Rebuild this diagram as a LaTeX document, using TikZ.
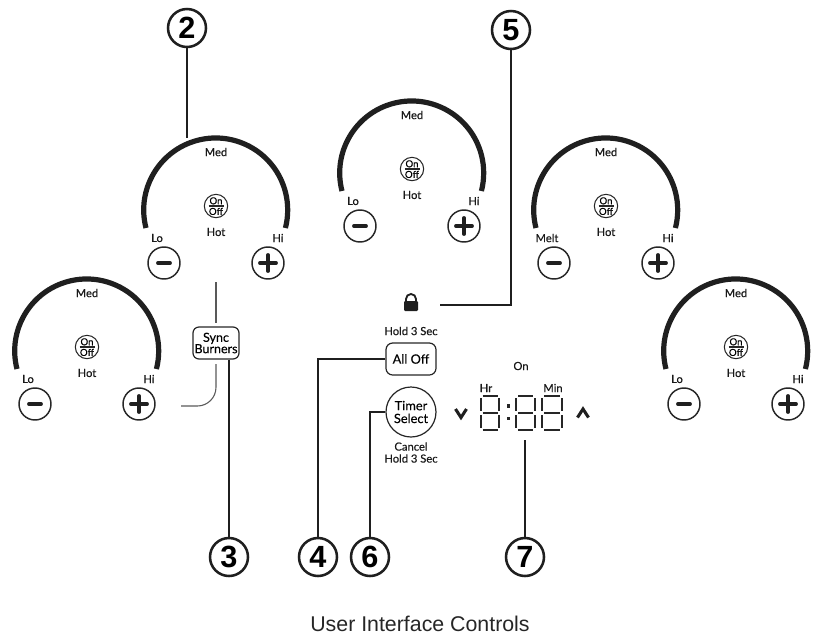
\documentclass[tikz,border=0pt]{standalone}
\usepackage{fontspec}
\setmainfont{Lato}[FakeBold=0.3]
\newfontfamily\capfont{Liberation Sans}
\tikzset{
  x=0.75pt,y=-0.75pt,
  lab/.style={inner sep=0pt,font=\fontsize{8.4pt}{9pt}\selectfont,text=black!90},
  dial/.style={line width=3.9pt,draw=black!88,line cap=butt},
  roundbtn/.style={circle,draw=black!85,line width=1.1pt,minimum size=24pt,inner sep=0pt},
  onoff/.style={circle,draw=black!85,line width=0.8pt,minimum size=17.5pt,inner sep=0pt},
  callout/.style={circle,draw=black!88,line width=1.9pt,minimum size=28.5pt,inner sep=0pt,fill=white,font=\capfont\bfseries\fontsize{23pt}{23pt}\selectfont},
  lead/.style={line width=1.7pt,draw=black!88},
  thin lead/.style={line width=0.8pt,draw=black!65},
  softkey/.style={draw=black!85,line width=0.9pt,rounded corners=4.5pt,inner sep=0pt,align=center},
  seg/.style={line width=1.5pt,draw=black!85},
}
\newcommand{\burner}[4]{% name, cx, cy, low label
  \begin{scope}[shift={(#2,#3)}]
    \draw[dial] (-70,22) arc[start angle=165.5,end angle=374.5,radius=72];
    \coordinate (#1top) at (0,-68);
    \node[lab] (#1med) at (0,-54) {Med};
    \node[onoff] (#1sw) at (0,0) {};
    \node[inner sep=0pt,font=\fontsize{7.2pt}{7.2pt}\selectfont] (#1on) at (0,-5.2) {On};
    \node[inner sep=0pt,font=\fontsize{7.2pt}{7.2pt}\selectfont] (#1off) at (0,5.4) {Off};
    \draw[line width=0.8pt,black!85] (-7.5,0) -- (7.5,0);
    \node[lab] (#1hot) at (0,26) {Hot};
    \node[lab] (#1lo) at (-59,32) {#4};
    \node[lab] (#1hi) at (62,32) {Hi};
    \node[roundbtn] (#1minus) at (-52,57) {};
    \node[roundbtn] (#1plus) at (52,57) {};
    \draw[line width=2.9pt,black!88,line cap=round] (#1minus.center)++(-6,0) -- ++(12,0);
    \draw[line width=2.9pt,black!88,line cap=round] (#1plus.center)++(-8,0) -- ++(16,0);
    \draw[line width=2.9pt,black!88,line cap=round] (#1plus.center)++(0,-8) -- ++(0,16);
  \end{scope}
}
\newcommand{\digit}[2]{% left x of digit, width
  \begin{scope}[shift={(#1,395.5)}]
    \draw[seg] (2.5,0.8) -- (#2-2.5,0.8);
    \draw[seg] (0.8,2.5) -- (0.8,15.5);
    \draw[seg] (#2-0.8,2.5) -- (#2-0.8,15.5);
    \draw[seg] (2.5,17.5) -- (#2-2.5,17.5);
    \draw[seg] (0.8,19.5) -- (0.8,32.5);
    \draw[seg] (#2-0.8,19.5) -- (#2-0.8,32.5);
    \draw[seg] (2.5,34.2) -- (#2-2.5,34.2);
  \end{scope}
}
\begin{document}
\begin{tikzpicture}
\useasboundingbox (0,0) rectangle (815,637);
\burner{b1}{216}{206}{Lo}
\burner{b2}{412}{169}{Lo}
\burner{b3}{606}{206}{Melt}
\burner{b4}{87}{347}{Lo}
\burner{b5}{736}{347}{Lo}
% Sync
\node[softkey,minimum width=34.5pt,minimum height=24pt,font=\fontsize{9.4pt}{9pt}\selectfont] (sync) at (216,343) {Sync\\[-0.5pt]Burners};
\coordinate (syncup) at (216,282);
\coordinate (syncupend) at (216,323);
\coordinate (syncdn) at (216,364);
\coordinate (syncend) at (181,406);
\draw[thin lead] (syncup) -- (syncupend);
\draw[thin lead,rounded corners=14pt] (syncdn) |- (syncend);
% All off
\node[lab] (hold) at (411,331) {Hold 3 Sec};
\node[softkey,minimum width=37.5pt,minimum height=24pt,rounded corners=5pt,font=\fontsize{9.6pt}{10pt}\selectfont] (alloff) at (411,359) {All Off};
% Timer
\node[circle,draw=black!85,line width=0.9pt,minimum size=37.5pt,inner sep=0pt,align=center,font=\fontsize{9.6pt}{9.6pt}\selectfont] (timer) at (411,412) {Timer\\Select};
\node[lab,align=center] (cancel) at (411,452.5) {Cancel\\Hold 3 Sec};
% Lock
\coordinate (lock) at (411,303);
\draw[line width=1.4pt,black!88] (406,302) -- (406,299) arc[start angle=180,end angle=360,radius=5] -- (416,302);
\fill[black!88,rounded corners=0.8pt] (404,301) rectangle (418,311);
\coordinate (lockend) at (440,305);
% Display
\node[lab] (on) at (521,366) {On};
\node[lab] (hr) at (486,388) {Hr};
\node[lab] (min) at (553,388) {Min};
\digit{480}{20}
\digit{515.5}{20}
\digit{541.5}{21}
\fill[black!85] (506.5,404) rectangle (510,407.5);
\fill[black!85] (506.5,416.5) rectangle (510,420);
\draw[line width=2.3pt,black!88] (455.5,409) -- (461,417.5) -- (466.5,409);
\draw[line width=2.3pt,black!88] (577.5,417.5) -- (583,409) -- (588.5,417.5);
\coordinate (dispb) at (525,440);
% Callouts
\coordinate (p2) at (187,28);
\coordinate (p5) at (511,30);
\coordinate (p3) at (229,557);
\coordinate (p4) at (318,557);
\coordinate (p6) at (370,557);
\coordinate (p7) at (525,557);
% Leaders
\draw[lead] (p2) -- (p2 |- b1top);
\draw[lead] (p5) |- (lockend);
\draw[lead] (p3 |- sync.south) -- (p3);
\draw[lead] (alloff.west) -| (p4);
\draw[lead] (timer.west) -| (p6);
\draw[lead] (p7) -- (dispb);
\node[callout] (c2) at (p2) {2};
\node[callout] (c5) at (p5) {5};
\node[callout] (c3) at (p3) {3};
\node[callout] (c4) at (p4) {4};
\node[callout] (c6) at (p6) {6};
\node[callout] (c7) at (p7) {7};
\node[font=\capfont\fontsize{16pt}{16pt}\selectfont,text=black!85,inner sep=0pt] (caption) at (420,624) {User Interface Controls};
\end{tikzpicture}
\end{document}
